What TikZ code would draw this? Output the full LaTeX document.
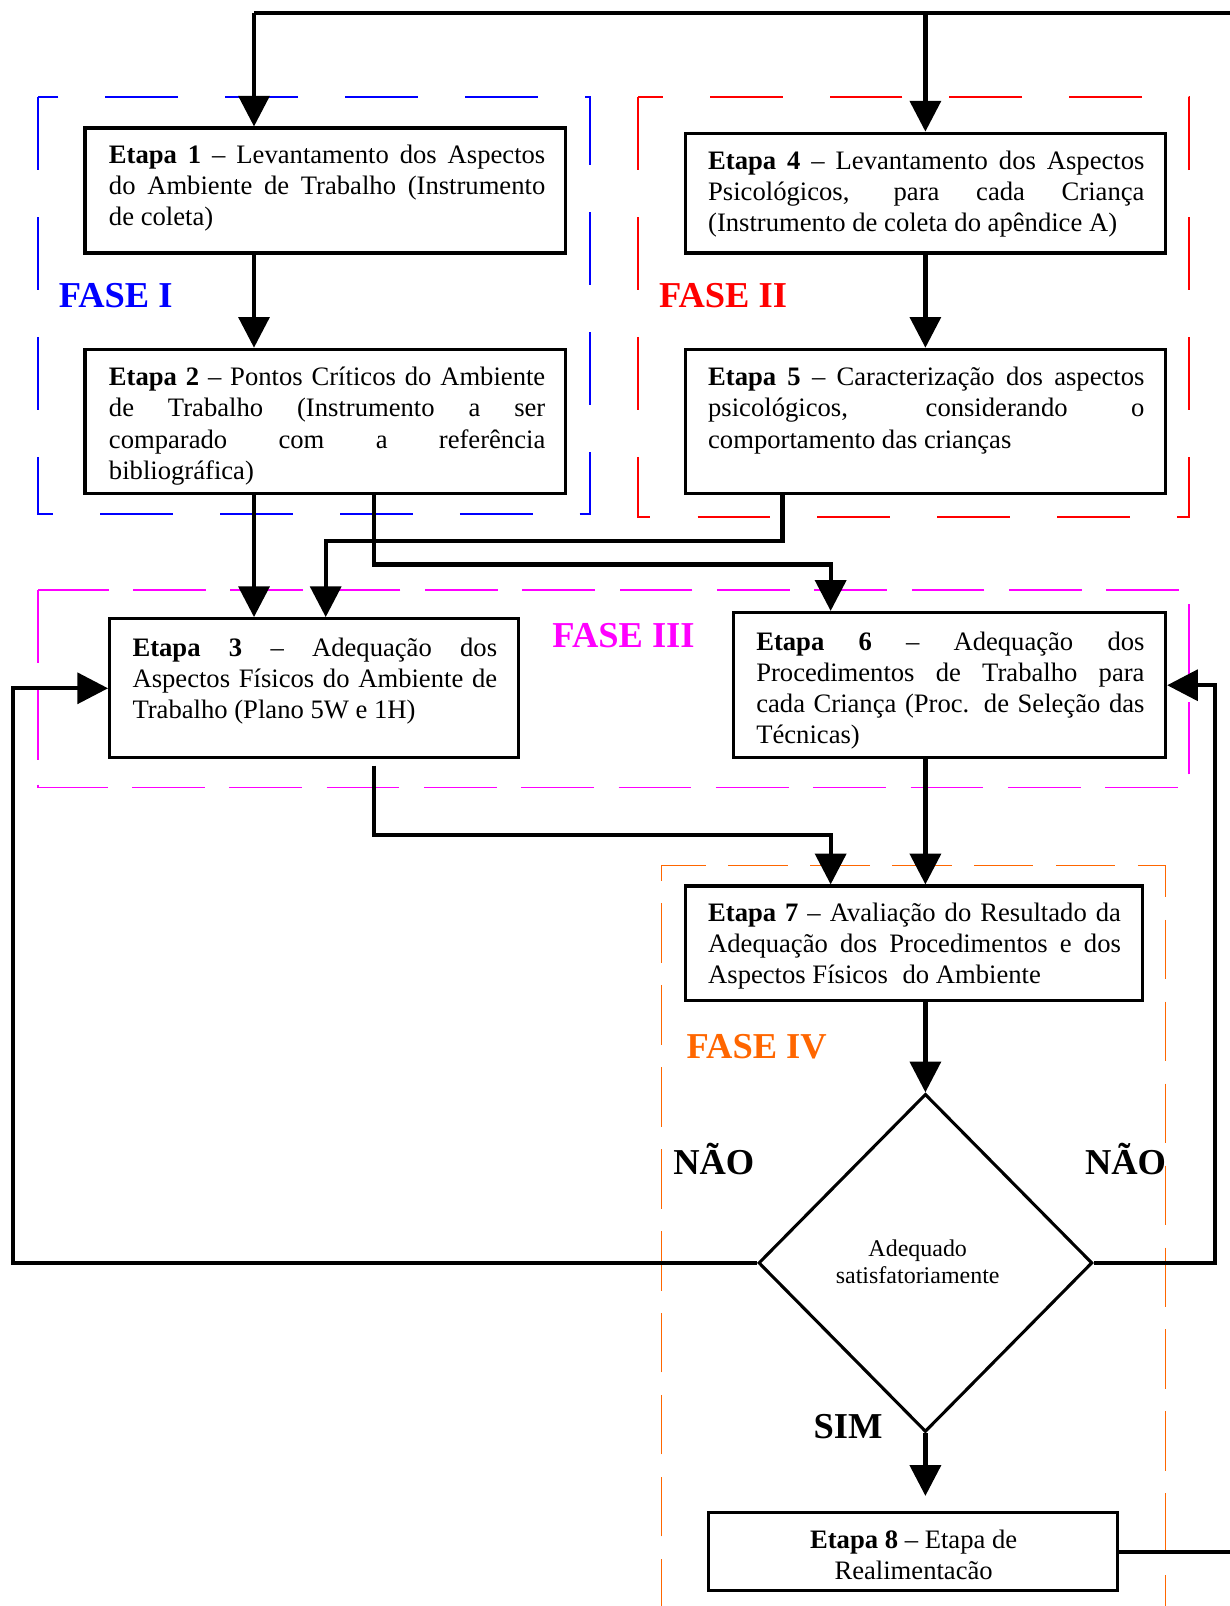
\documentclass[tikz,border=0pt]{standalone}
\usepackage{fontspec}
\setmainfont{Liberation Serif}
\usetikzlibrary{arrows.meta,shapes.geometric}
\definecolor{fblue}{RGB}{0,0,255}
\definecolor{fred}{RGB}{255,0,0}
\definecolor{fmag}{RGB}{255,0,255}
\definecolor{forange}{RGB}{255,102,0}
\newcommand{\jline}[2]{\makebox[#1][s]{\strut #2}}
\newcommand{\lline}[2]{\makebox[#1][l]{\strut #2}}
\begin{document}
\begin{tikzpicture}[x=0.5pt,y=-0.5pt,
  box/.style={draw,line width=1.5pt,inner sep=0pt,fill=white},
  txt/.style={anchor=north west,inner sep=0pt,align=left,font=\fontsize{13}{15.2}\selectfont},
  ctxt/.style={anchor=north,inner sep=0pt,align=center,font=\fontsize{13}{15.2}\selectfont},
  dtxt/.style={anchor=north,inner sep=0pt,align=center,font=\fontsize{11.7}{13.5}\selectfont},
  conn/.style={line width=2.1pt},
  arr/.style={line width=2.1pt,-{Triangle[length=15pt,width=15pt]}},
  phase/.style={anchor=base west,inner sep=0pt,font=\fontsize{17.8}{20}\selectfont\bfseries},
  frameA/.style={line width=0.8pt,dash pattern=on 35.5pt off 23pt},
  frameB/.style={line width=0.8pt,dash pattern=on 35.5pt off 12pt},
  frameC/.style={line width=0.8pt,dash pattern=on 29pt off 11pt}]

\useasboundingbox (0,0) rectangle (1200,1568);

% phase frames
\draw[frameA,fblue] (37,95) rectangle (576,502);
\draw[frameA,fred] (623,95) rectangle (1161,505);
\draw[frameB,fmag] (37,576) rectangle (1161,769);
\draw[frameC,forange] (646,1580) -- (646,845) -- (1138,845) -- (1138,1580);

% helper coordinates
\coordinate (topR) at (1210,13);
\coordinate (top1) at (248,13);
\coordinate (top2) at (903.5,13);
\coordinate (x365) at (365,0);
\coordinate (x318) at (318,0);
\coordinate (x764) at (764,0);
\coordinate (x811) at (811,0);
\coordinate (x904) at (903.5,0);
\coordinate (xL) at (13,0);
\coordinate (xR) at (1186,0);

% boxes
\node[box,minimum width=234.5pt,minimum height=61pt] (e1) at (317.5,186) {};
\node[box,minimum width=234.5pt,minimum height=70.5pt] (e2) at (317.5,411.5) {};
\node[box,minimum width=234.5pt,minimum height=58.5pt] (e4) at (903.5,188.5) {};
\node[box,minimum width=234.5pt,minimum height=70.5pt] (e5) at (903.5,411.5) {};
\node[box,minimum width=199.5pt,minimum height=68pt] (e3) at (306.5,672) {};
\node[box,minimum width=211pt,minimum height=71pt] (e6) at (927,669) {};
\node[box,minimum width=223pt,minimum height=56pt] (e7) at (892,921) {};
\node[box,minimum width=199.5pt,minimum height=38pt] (e8) at (891.5,1515) {};
\node[draw,diamond,line width=1.5pt,inner sep=0pt,minimum width=163pt,minimum height=165pt] (d) at (903.5,1233) {};

% texts
\node[txt] (t1) at (106,138) {\jline{213pt}{\textbf{Etapa 1} – Levantamento dos Aspectos}\\
\jline{213pt}{do Ambiente de Trabalho (Instrumento}\\
\lline{213pt}{de coleta)}};
\node[txt] (t2) at (106,355) {\jline{213pt}{\textbf{Etapa 2} – Pontos Críticos do Ambiente}\\
\jline{213pt}{de Trabalho (Instrumento a ser}\\
\jline{213pt}{comparado com a referência}\\
\lline{213pt}{bibliográfica)}};
\node[txt] (t4) at (691,144) {\jline{213pt}{\textbf{Etapa 4} – Levantamento dos Aspectos}\\
\jline{213pt}{Psicológicos, para cada Criança}\\
\lline{213pt}{(Instrumento de coleta do apêndice A)}};
\node[txt] (t5) at (691,355) {\jline{213pt}{\textbf{Etapa 5} – Caracterização dos aspectos}\\
\jline{213pt}{psicológicos, considerando o}\\
\lline{213pt}{comportamento das crianças}};
\node[txt] (t3) at (129,619) {\jline{178pt}{\textbf{Etapa 3} – Adequação dos}\\
\jline{178pt}{Aspectos Físicos do Ambiente de}\\
\lline{178pt}{Trabalho (Plano 5W e 1H)}};
\node[txt] (t6) at (738,613) {\jline{189.5pt}{\textbf{Etapa 6} – Adequação dos}\\
\jline{189.5pt}{Procedimentos de Trabalho para}\\
\jline{189.5pt}{cada Criança (Proc. de Seleção das}\\
\lline{189.5pt}{Técnicas)}};
\node[txt] (t7) at (691,878) {\jline{201.5pt}{\textbf{Etapa 7} – Avaliação do Resultado da}\\
\jline{201.5pt}{Adequação dos Procedimentos e dos}\\
\lline{201.5pt}{Aspectos Físicos\hspace{0.3em} do Ambiente}};
\node[ctxt] (t8) at (892,1490) {\strut\textbf{Etapa 8} – Etapa de\\ \strut Realimentacão};
\node[dtxt] (td) at (896,1207) {\strut Adequado\\ \strut satisfatoriamente};

% phase labels
\node[phase,fblue] (f1) at (57,300) {FASE I};
\node[phase,fred] (f2) at (643,300) {FASE II};
\node[phase,fmag] (f3) at (539,632) {FASE III};
\node[phase,forange] (f4) at (670,1033) {FASE IV};
\node[phase] (n1) at (657,1147) {NÃO};
\node[phase] (n2) at (1059,1147) {NÃO};
\node[phase] (s1) at (794,1404) {SIM};

% connectors
\draw[conn] (topR) -- (top1);
\draw[arr] (top1) -- (top1 |- e1.north);
\draw[arr] (top2) -- (e4.north);
\draw[arr] (e1.south -| top1) -- (e2.north -| top1);
\draw[arr] (e4.south) -- (e5.north);
\draw[arr] (e2.south -| top1) -- (e3.north -| top1);
\draw[arr] (e2.south -| x365) |- (811,551) -- (e6.north -| x811);
\draw[arr] (e5.south -| x764) |- (318,528) -- (e3.north -| x318);
\draw[arr] ([yshift=-3pt]e3.south -| x365) |- (811,815) -- (e7.north -| x811);
\draw[arr] (e6.south -| x904) -- (e7.north -| x904);
\draw[arr] (e7.south -| x904) -- (d.north);
\draw[arr] (d.west) -- (xL |- d.west) -- (xL |- e3.west) -- (e3.west);
\draw[arr] (d.east) -- (xR |- d.east) -- (xR |- e6.east) -- (e6.east);
\draw[arr,shorten >=7.5pt] (d.south) -- (e8.north -| d.south);
\draw[conn] (e8.east) -- (e8.east -| topR);
\end{tikzpicture}
\end{document}
